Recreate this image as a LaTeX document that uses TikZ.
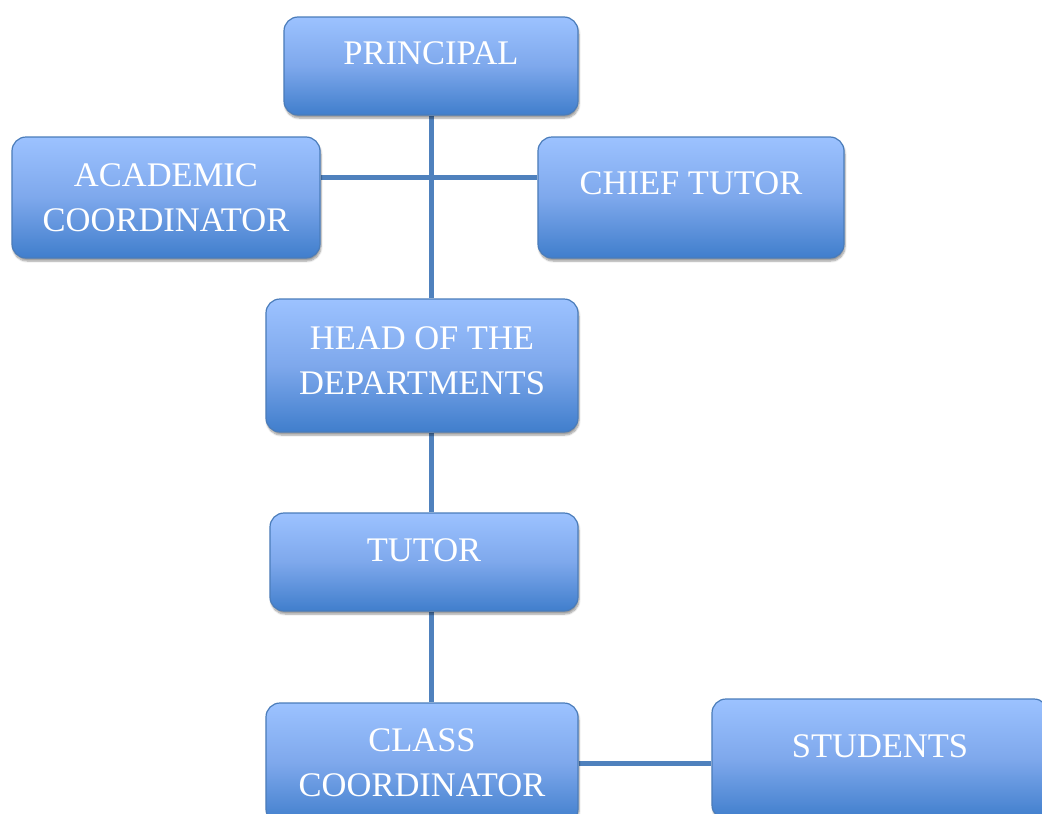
\documentclass[tikz,border=0pt]{standalone}
\usepackage{fontspec}
\setmainfont{Liberation Serif}
\usetikzlibrary{calc, backgrounds, shadows, shadows.blur}
\definecolor{boxtop}{RGB}{156,194,255}
\definecolor{boxmid}{RGB}{126,168,236}
\definecolor{boxbottom}{RGB}{64,126,204}
\definecolor{boxedge}{RGB}{74,124,186}
\definecolor{linkblue}{RGB}{79,129,189}

\begin{document}
\begin{tikzpicture}[
    x=1pt, y=-1pt,
    orgbox/.style={rectangle, rounded corners=14pt, draw=boxedge, line width=1.2pt,
        top color=boxtop, bottom color=boxbottom, middle color=boxmid,
        blur shadow={shadow xshift=1pt, shadow yshift=-3pt, shadow blur steps=6, shadow opacity=40},
        text=white, font=\fontsize{34.5}{45}\selectfont, align=center, inner sep=0pt},
    link/.style={draw=linkblue, line width=5pt}
]
\useasboundingbox (0,0) rectangle (1042,814);

% Boxes
\node[orgbox, minimum width=294pt, minimum height=98pt, text depth=26pt] (principal) at (431,66) {PRINCIPAL};
\node[orgbox, minimum width=308pt, minimum height=121pt] (academic) at (166,197.5) {ACADEMIC\\COORDINATOR};
\node[orgbox, minimum width=306pt, minimum height=121pt, text depth=29pt] (chief) at (691,197.5) {CHIEF TUTOR};
\node[orgbox, minimum width=312pt, minimum height=133pt, text depth=10pt] (head) at (422,365.5) {HEAD OF THE\\DEPARTMENTS};
\node[orgbox, minimum width=308pt, minimum height=98pt, text depth=24pt] (tutor) at (424,562) {TUTOR};
\node[orgbox, minimum width=312pt, minimum height=120pt] (class) at (422,763) {CLASS\\COORDINATOR};
\node[orgbox, minimum width=336pt, minimum height=120pt, text depth=26pt] (students) at (880,759) {STUDENTS};

% Connectors
\begin{scope}[on background layer]
\draw[link] (principal.south) -- (principal.south |- head.north);
\draw[link] ([yshift=20.5pt]academic.east) -- ([yshift=20.5pt]academic.east -| chief.west);
\draw[link] (principal.south |- head.south) -- (principal.south |- tutor.north);
\draw[link] (principal.south |- tutor.south) -- (principal.south |- class.north);
\draw[link] (class.east) -- (class.east -| students.west);
\end{scope}

\end{tikzpicture}
\end{document}
